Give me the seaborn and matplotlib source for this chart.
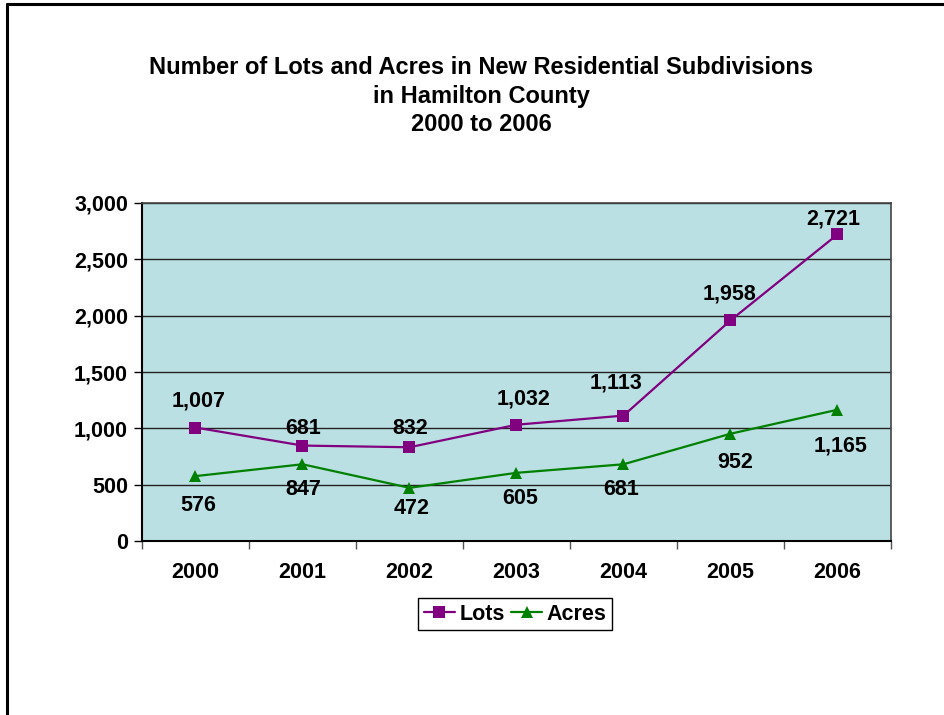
import numpy as np
import pandas as pd
import matplotlib
matplotlib.use("Agg")
import matplotlib.pyplot as plt
import seaborn as sns
from matplotlib.lines import Line2D
from matplotlib.ticker import FuncFormatter, FixedLocator

years = ["2000", "2001", "2002", "2003", "2004", "2005", "2006"]
lots = [1007, 847, 832, 1032, 1113, 1958, 2721]
acres = [576, 681, 472, 605, 681, 952, 1165]
lots_labels = ["1,007", "681", "832", "1,032", "1,113", "1,958", "2,721"]
acres_labels = ["576", "847", "472", "605", "681", "952", "1,165"]
title = "Number of Lots and Acres in New Residential Subdivisions\nin Hamilton County\n2000 to 2006"

sns.set_style("white")
plt.rcParams["font.family"] = ["Liberation Sans", "DejaVu Sans"]
plt.rcParams["font.weight"] = "bold"
plt.rcParams["text.color"] = "black"
plt.rcParams["xtick.color"] = "black"
plt.rcParams["ytick.color"] = "black"

fig = plt.figure(figsize=(9.45, 7.15), dpi=100)
ax = fig.add_axes([142/945, 1-541/715, (891-142)/945, (541-203)/715])
ax.set_facecolor("#BBE0E3")

x = np.arange(len(years))
df = pd.DataFrame({"x": np.concatenate([x, x]),
                   "value": lots + acres,
                   "series": ["Lots"]*len(years) + ["Acres"]*len(years)})

sns.lineplot(data=df, x="x", y="value", hue="series", style="series",
             palette={"Lots": "#800080", "Acres": "#008000"},
             markers={"Lots": "s", "Acres": "^"}, dashes=False,
             markersize=8.5, linewidth=1.6, markeredgewidth=0, ax=ax, legend=True)

ax.set_xlim(-0.5, len(years)-0.5)
ax.set_ylim(0, 3000)
ax.set_yticks(np.arange(0, 3001, 500))
ax.yaxis.set_major_formatter(FuncFormatter(lambda v, p: f"{int(v):,}"))
ax.grid(axis="y", color="#222222", linewidth=1.0)
ax.set_axisbelow(True)

ax.xaxis.set_major_locator(FixedLocator(np.arange(-0.5, len(years)+0.5, 1)))
ax.xaxis.set_major_formatter(FuncFormatter(lambda v, p: ""))
ax.xaxis.set_minor_locator(FixedLocator(x))
ax.set_xticklabels(years, minor=True)
ax.tick_params(axis="x", which="major", direction="out", length=6, width=1, color="#555555", bottom=True)
ax.tick_params(axis="x", which="minor", length=0, pad=15, labelsize=15.5)
ax.tick_params(axis="y", direction="out", length=6, width=1, color="black", left=True, labelsize=15.5, pad=4)
for lab in ax.get_xticklabels(minor=True) + ax.get_yticklabels():
    lab.set_fontweight("bold")
ax.set_xlabel("")
ax.set_ylabel("")

for s in ["left", "bottom"]:
    ax.spines[s].set_color("black")
    ax.spines[s].set_linewidth(1.5)
for s in ["top", "right"]:
    ax.spines[s].set_color("#444444")
    ax.spines[s].set_linewidth(1.2)

lots_off = [(3, 27), (1, 17), (1, 19), (7, 26), (-7, 33), (-1, 26), (-4, 15)]
acres_off = [(3, -29), (1, -25), (2, -21), (4, -26), (-2, -25), (5, -29), (3, -36)]
for i in range(len(years)):
    ax.annotate(lots_labels[i], (x[i], lots[i]), xytext=lots_off[i], textcoords="offset pixels",
                ha="center", va="center", fontsize=15.5, fontweight="bold", color="black")
    ax.annotate(acres_labels[i], (x[i], acres[i]), xytext=acres_off[i], textcoords="offset pixels",
                ha="center", va="center", fontsize=15.5, fontweight="bold", color="black")

h, l = ax.get_legend_handles_labels()
ax.get_legend().remove()
leg = fig.legend(h, l, loc="center", bbox_to_anchor=(515/945, 1-614/715), ncol=2,
                 frameon=True, fancybox=False, edgecolor="black", framealpha=1,
                 prop={"size": 15.5, "weight": "bold"}, handlelength=1.45, handletextpad=0.2,
                 columnspacing=0.3, borderpad=0.25)
leg.get_frame().set_linewidth(1.0)

fig.text(481/945, 1-96/715, title, ha="center", va="center", fontsize=17,
         fontweight="bold", linespacing=1.3, color="black")

fig.add_artist(Line2D([7/945, 1.0], [1-4/715, 1-4/715], transform=fig.transFigure,
                      color="black", linewidth=2.2))
fig.add_artist(Line2D([7/945, 7/945], [0, 1-4/715], transform=fig.transFigure,
                      color="black", linewidth=2.2))

fig.savefig("out.png", dpi=100)
